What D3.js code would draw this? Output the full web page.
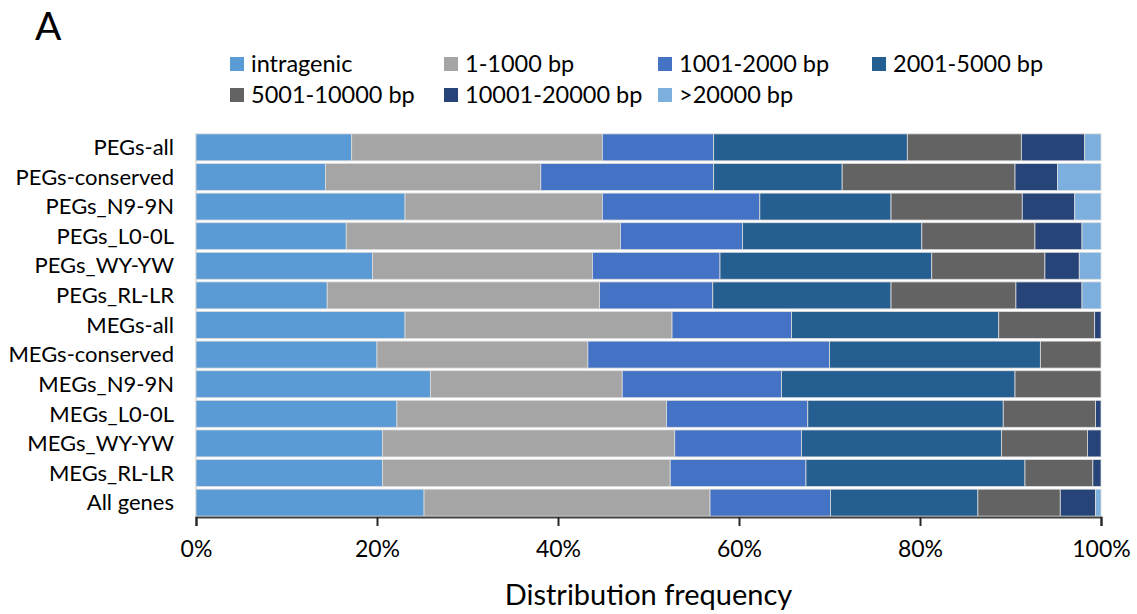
<!DOCTYPE html>
<html>
<head>
<meta charset="utf-8">
<script src="https://cdn.jsdelivr.net/npm/d3@7"></script>
<style>
  body { margin: 0; background: #fff; }
  text { font-family: Lato, "Noto Sans", sans-serif; fill: #000; }
</style>
</head>
<body>
<div class="vis-barchart"></div>
<script>
// categories, top to bottom
const categories = ['PEGs-all', 'PEGs-conserved', 'PEGs_N9-9N', 'PEGs_L0-0L', 'PEGs_WY-YW', 'PEGs_RL-LR',
  'MEGs-all', 'MEGs-conserved', 'MEGs_N9-9N', 'MEGs_L0-0L', 'MEGs_WY-YW', 'MEGs_RL-LR', 'All genes'];

const seriesNames = ['intragenic', '1-1000 bp', '1001-2000 bp', '2001-5000 bp', '5001-10000 bp', '10001-20000 bp', '>20000 bp'];

// percentages per series
const intragenic = [17.2, 14.3, 23.1, 16.6, 19.5, 14.5, 23.1, 20.0, 25.9, 22.2, 20.6, 20.6, 25.2];
const bp1_1000 = [27.7, 23.8, 21.8, 30.3, 24.3, 30.1, 29.5, 23.3, 21.2, 29.8, 32.3, 31.8, 31.6];
const bp1001_2000 = [12.3, 19.1, 17.4, 13.5, 14.1, 12.5, 13.2, 26.7, 17.6, 15.6, 14.0, 15.0, 13.3];
const bp2001_5000 = [21.4, 14.2, 14.5, 19.8, 23.4, 19.7, 22.9, 23.3, 25.8, 21.6, 22.1, 24.2, 16.3];
const bp5001_10000 = [12.6, 19.1, 14.5, 12.5, 12.5, 13.8, 10.6, 6.7, 9.5, 10.2, 9.5, 7.5, 9.1];
const bp10001_20000 = [7.0, 4.7, 5.8, 5.2, 3.8, 7.3, 0.7, 0, 0, 0.6, 1.5, 0.9, 3.9];
const bp20000plus = [1.8, 4.8, 2.9, 2.1, 2.4, 2.1, 0, 0, 0, 0, 0, 0, 0.6];

const xTicks = [0, 0.2, 0.4, 0.6, 0.8, 1.0];

const seriesValues = [intragenic, bp1_1000, bp1001_2000, bp2001_5000, bp5001_10000, bp10001_20000, bp20000plus];

// build table for d3.stack
const data = categories.map((c, i) => {
  const row = {category: c};
  seriesNames.forEach((s, j) => { row[s] = seriesValues[j][i]; });
  return row;
});

const width = 1137, height = 614;
const margin = {top: 133, right: 36, bottom: 97, left: 196};

const color = d3.scaleOrdinal()
  .domain(seriesNames)
  .range(['#5b9bd5', '#a5a5a5', '#4472c4', '#255e91', '#636363', '#264478', '#7cafdd']);

const stackedData = d3.stack()
  .keys(seriesNames)
  .offset(d3.stackOffsetExpand)
  (data);

const svg = d3.select('.vis-barchart')
  .append('svg')
    .attr('width', width)
    .attr('height', height);

const x = d3.scaleLinear()
  .domain([0, 1])
  .range([margin.left, width - margin.right]);

const y = d3.scaleBand()
  .domain(categories)
  .range([margin.top, height - margin.bottom])
  .paddingInner(0.09)
  .paddingOuter(0.03);

// vertical axis line
svg.append('line')
  .attr('x1', x(0)).attr('x2', x(0))
  .attr('y1', margin.top).attr('y2', height - margin.bottom)
  .attr('stroke', '#d9d9d9')
  .attr('stroke-width', 1.5);

// bars
svg.append('g')
  .selectAll('g')
  .data(stackedData)
  .enter()
  .append('g')
    .attr('fill', d => color(d.key))
  .selectAll('rect')
  .data(d => d)
  .enter()
  .append('rect')
    .attr('x', d => x(d[0]))
    .attr('y', d => y(d.data.category))
    .attr('width', d => x(d[1]) - x(d[0]))
    .attr('height', y.bandwidth())
    .attr('stroke', '#dcdcdc')
    .attr('stroke-width', d => (d[1] - d[0]) > 0 ? 0.8 : 0);

// category labels
svg.append('g')
  .selectAll('text')
  .data(categories)
  .enter()
  .append('text')
    .attr('x', 174)
    .attr('y', d => y(d) + y.bandwidth() / 2)
    .attr('dy', '0.35em')
    .attr('text-anchor', 'end')
    .style('font-size', '22px')
    .text(d => d);

// x axis
const xAxis = svg.append('g')
  .attr('transform', 'translate(0,' + (height - margin.bottom) + ')')
  .call(d3.axisBottom(x).tickValues(xTicks).tickFormat(d3.format('.0%')).tickSize(9).tickPadding(15));

xAxis.select('.domain').attr('stroke', '#404040').attr('stroke-width', 2);
xAxis.selectAll('.tick line').attr('stroke', '#262626').attr('stroke-width', 2);
xAxis.selectAll('.tick text')
  .style('font-family', 'Lato, "Noto Sans", sans-serif')
  .style('font-size', '23px')
  .attr('fill', '#000');

// x axis label
svg.append('text')
  .attr('x', (x(0) + x(1)) / 2)
  .attr('y', 605)
  .attr('text-anchor', 'middle')
  .style('font-size', '29px')
  .text('Distribution frequency');

// panel letter
svg.append('text')
  .attr('x', 35)
  .attr('y', 40)
  .style('font-size', '39px')
  .text('A');

////////////
// LEGEND //
////////////
const size = 14;
const legendPos = seriesNames.map((d, i) => ({
  key: d,
  x: 230 + (i % 4) * 214,
  y: 57 + Math.floor(i / 4) * 31
}));

const legend = svg.append('g')
  .selectAll('g')
  .data(legendPos)
  .enter()
  .append('g')
    .attr('transform', d => 'translate(' + d.x + ',' + d.y + ')');

legend.append('rect')
  .attr('width', size)
  .attr('height', size)
  .attr('fill', d => color(d.key));

legend.append('text')
  .attr('x', 21)
  .attr('y', size / 2)
  .attr('dy', '0.36em')
  .style('font-size', '23.5px')
  .text(d => d.key);
</script>
</body>
</html>
